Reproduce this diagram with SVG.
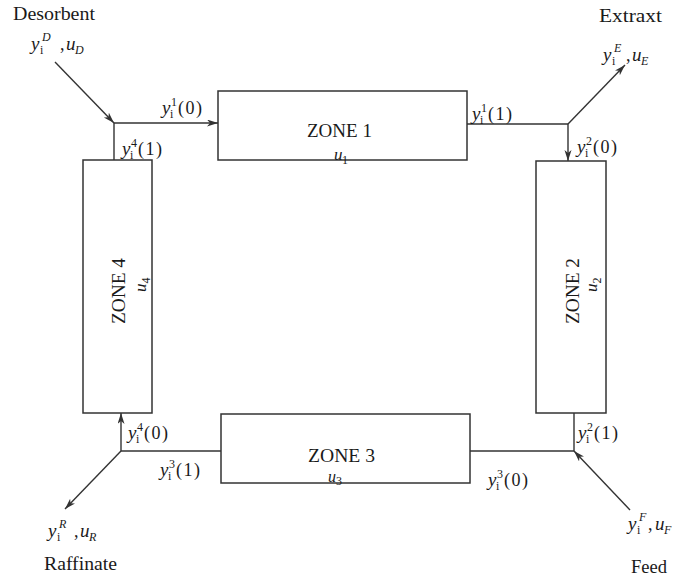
<svg xmlns="http://www.w3.org/2000/svg" width="684" height="579" viewBox="0 0 684 579">
<style>
text{font-family:"Liberation Serif","DejaVu Serif",serif;fill:#1a1a1a}
.w{font-size:18px}
.m{font-size:18px}
.i{font-size:19px;font-style:italic}
.s{font-size:12px}
.si{font-size:12px;font-style:italic}
.box{fill:none;stroke:#333;stroke-width:1.5}
.ln{fill:none;stroke:#333;stroke-width:1.4}
.ar{marker-end:url(#ah)}
</style>
<defs>
<marker id="ah" markerUnits="userSpaceOnUse" markerWidth="12" markerHeight="8" refX="11" refY="3.5" orient="auto">
<path d="M0,0 L11,3.5 L0,7 L3,3.5 z" fill="#333"/>
</marker>
</defs>
<rect width="684" height="579" fill="#fff"/>

<g id="connectors">
<line class="ln ar" x1="55" y1="62" x2="114" y2="123"/>
<line class="ln" x1="114" y1="160" x2="114" y2="123"/>
<line class="ln ar" x1="114" y1="123" x2="218" y2="123"/>
<line class="ln" x1="467" y1="124" x2="568" y2="124"/>
<line class="ln ar" x1="568" y1="124" x2="568" y2="161"/>
<line class="ln ar" x1="568" y1="124" x2="625" y2="65"/>
<line class="ln ar" x1="121" y1="451" x2="121" y2="413"/>
<line class="ln" x1="121" y1="451" x2="221" y2="451"/>
<line class="ln ar" x1="121" y1="451" x2="65" y2="509"/>
<line class="ln" x1="470" y1="451" x2="574" y2="451"/>
<line class="ln" x1="574" y1="451" x2="574" y2="413"/>
<line class="ln ar" x1="630" y1="510" x2="574" y2="451"/>
</g>

<g id="zone1">
<rect class="box" x="218" y="91" width="249" height="69"/>
<text class="w" x="307" y="137" textLength="65" lengthAdjust="spacingAndGlyphs">ZONE 1</text>
<text class="i" x="334" y="160" style="font-size:17px">u</text><text class="s" x="342" y="164">1</text>
</g>
<g id="zone2">
<rect class="box" x="536" y="161" width="70" height="252"/>
<text class="w" transform="translate(579,291) rotate(-90)" text-anchor="middle" textLength="66" lengthAdjust="spacingAndGlyphs">ZONE 2</text>
<text transform="translate(597,292) rotate(-90)"><tspan class="i" style="font-size:17px">u</tspan><tspan class="s" dy="4">2</tspan></text>
</g>
<g id="zone3">
<rect class="box" x="221" y="414" width="249" height="69"/>
<text class="w" x="308" y="462" textLength="67" lengthAdjust="spacingAndGlyphs">ZONE 3</text>
<text class="i" x="328" y="482" style="font-size:16px">u</text><text class="s" x="336" y="485">3</text>
</g>
<g id="zone4">
<rect class="box" x="83" y="160" width="69" height="253"/>
<text class="w" transform="translate(125,291) rotate(-90)" text-anchor="middle" textLength="66" lengthAdjust="spacingAndGlyphs">ZONE 4</text>
<text transform="translate(146,292) rotate(-90)"><tspan class="i" style="font-size:17px">u</tspan><tspan class="s" dy="4">4</tspan></text>
</g>

<g id="desorbent">
<text class="w" x="13" y="20" textLength="82" lengthAdjust="spacingAndGlyphs">Desorbent</text>
<text class="i" x="31" y="50">y</text><text class="si" x="42" y="41">D</text><text class="s" x="40" y="54">i</text>
<text class="m" x="60" y="50">,</text><text class="i" x="66" y="50">u</text><text class="si" x="75" y="54">D</text>
</g>
<g id="extract">
<text class="w" x="599" y="22" textLength="63" lengthAdjust="spacingAndGlyphs">Extraxt</text>
<text class="i" x="603" y="61">y</text><text class="si" x="614" y="52">E</text><text class="s" x="612" y="65">i</text>
<text class="m" x="626" y="61">,</text><text class="i" x="632" y="61">u</text><text class="si" x="641" y="65">E</text>
</g>
<g id="raffinate">
<text class="w" x="44" y="570" textLength="73" lengthAdjust="spacingAndGlyphs">Raffinate</text>
<text class="i" x="48" y="537">y</text><text class="si" x="59" y="528">R</text><text class="s" x="57" y="541">i</text>
<text class="m" x="74" y="537">,</text><text class="i" x="80" y="537">u</text><text class="si" x="89" y="541">R</text>
</g>
<g id="feed">
<text class="w" x="631" y="573" textLength="36" lengthAdjust="spacingAndGlyphs">Feed</text>
<text class="i" x="628" y="530">y</text><text class="si" x="639" y="521">F</text><text class="s" x="637" y="534">i</text>
<text class="m" x="648" y="530">,</text><text class="i" x="655" y="530">u</text><text class="si" x="664" y="534">F</text>
</g>

<g id="stream-labels">
<g><text class="i" x="162" y="114">y</text><text class="s" x="171" y="106">1</text><text class="s" x="170" y="118">i</text><text class="m" x="178" y="114" textLength="24" lengthAdjust="spacing">(0)</text></g>
<g><text class="i" x="122" y="155">y</text><text class="s" x="131" y="147">4</text><text class="s" x="130" y="159">i</text><text class="m" x="138" y="155" textLength="24" lengthAdjust="spacing">(1)</text></g>
<g><text class="i" x="472" y="120">y</text><text class="s" x="481" y="112">1</text><text class="s" x="480" y="124">i</text><text class="m" x="488" y="120" textLength="24" lengthAdjust="spacing">(1)</text></g>
<g><text class="i" x="577" y="153">y</text><text class="s" x="586" y="145">2</text><text class="s" x="585" y="157">i</text><text class="m" x="593" y="153" textLength="24" lengthAdjust="spacing">(0)</text></g>
<g><text class="i" x="128" y="439">y</text><text class="s" x="137" y="431">4</text><text class="s" x="136" y="443">i</text><text class="m" x="144" y="439" textLength="24" lengthAdjust="spacing">(0)</text></g>
<g><text class="i" x="160" y="476">y</text><text class="s" x="169" y="468">3</text><text class="s" x="168" y="480">i</text><text class="m" x="176" y="476" textLength="24" lengthAdjust="spacing">(1)</text></g>
<g><text class="i" x="488" y="486">y</text><text class="s" x="497" y="478">3</text><text class="s" x="496" y="490">i</text><text class="m" x="504" y="486" textLength="24" lengthAdjust="spacing">(0)</text></g>
<g><text class="i" x="578" y="439">y</text><text class="s" x="587" y="431">2</text><text class="s" x="586" y="443">i</text><text class="m" x="594" y="439" textLength="24" lengthAdjust="spacing">(1)</text></g>
</g>
</svg>
